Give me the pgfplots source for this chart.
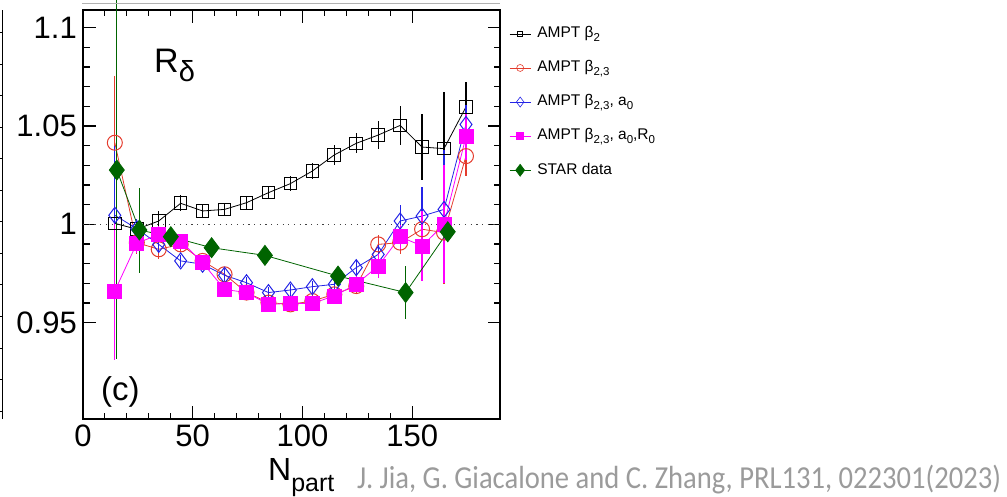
\documentclass[border=0pt]{standalone}
\usepackage{pgfplots}
\pgfplotsset{compat=1.18}
\usepackage{pgfplotstable}
\usepackage{fontspec}
\setmainfont{Liberation Sans}
\newfontfamily\carlito{Carlito}
\definecolor{rootred}{RGB}{228,60,45}
\definecolor{rootblue}{RGB}{35,35,230}
\definecolor{rootmag}{RGB}{255,0,255}
\definecolor{rootgreen}{RGB}{0,100,0}
\definecolor{citegray}{RGB}{155,155,155}
\newcommand{\lsub}[1]{\raisebox{-4pt}{\fontsize{11.5}{12}\selectfont #1}}

\pgfplotstableread{
x y ey
14.5 1.0005 0.002
24.5 0.9975 0.003
34.5 1.0017 0.005
44.5 1.0107 0.004
54.5 1.0068 0.003
64.5 1.0076 0.003
74.5 1.0110 0.003
84.5 1.0161 0.003
94.5 1.0207 0.004
104.5 1.0271 0.004
114.5 1.0353 0.005
124.5 1.0412 0.005
134.5 1.0454 0.007
144.5 1.0503 0.010
154.5 1.0393 0.017
164.5 1.0385 0.029
174.5 1.0597 0.0125
}\tabblk

\pgfplotstableread{
x y ey
14.5 1.0415 0.034
24.5 0.9907 0.006
34.5 0.9873 0.005
44.5 0.9898 0.004
54.5 0.9814 0.003
64.5 0.9746 0.003
74.5 0.9653 0.003
84.5 0.9602 0.003
94.5 0.9593 0.003
104.5 0.9610 0.003
114.5 0.9644 0.003
124.5 0.9686 0.004
134.5 0.9898 0.005
144.5 0.9907 0.006
154.5 0.9975 0.008
164.5 0.9958 0.026
174.5 1.0347 0.010
}\tabred

\pgfplotstableread{
x y ey
14.5 1.0046 0.035
24.5 0.9978 0.005
34.5 0.9898 0.004
44.5 0.9814 0.003
54.5 0.9797 0.003
64.5 0.9741 0.003
74.5 0.9703 0.003
84.5 0.9653 0.003
94.5 0.9666 0.003
104.5 0.9683 0.003
114.5 0.9695 0.003
124.5 0.9780 0.004
134.5 0.9847 0.005
144.5 1.0017 0.008
154.5 1.0042 0.015
164.5 1.0076 0.030
174.5 1.0508 0.010
}\tabblu

\pgfplotstableread{
x y ey
14.5 0.9661 0.035
24.5 0.9903 0.005
34.5 0.9949 0.004
44.5 0.9915 0.003
54.5 0.9805 0.003
64.5 0.9669 0.003
74.5 0.9653 0.003
84.5 0.9593 0.003
94.5 0.9598 0.003
104.5 0.9598 0.003
114.5 0.9636 0.003
124.5 0.9695 0.004
134.5 0.9788 0.006
144.5 0.9937 0.006
154.5 0.9890 0.018
164.5 1.0000 0.030
174.5 1.0446 0.012
}\tabmag

\pgfplotstableread{
x y ey
15.4 1.0276 0.096
25.7 0.9971 0.0216
40.0 0.9937 0.004
58.6 0.9881 0.003
82.9 0.9842 0.003
116.2 0.9737 0.003
147.0 0.9653 0.0135
166.2 0.9962 0.003
}\tabgrn

\begin{document}
\begin{tikzpicture}
\begin{axis}[
  at={(83pt,77pt)}, anchor=south west,
  scale only axis, width=417pt, height=409pt,
  xmin=0, xmax=190, ymin=0.901, ymax=1.109,
  clip=false,
  xtick={0,50,100,150}, xticklabels={0,50,100,150},
  ytick={0.95,1,1.05,1.1}, yticklabels={0.95,1,1.05,1.1},
  minor x tick num=4, minor y tick num=4,
  tick align=inside, xtick pos=both, ytick pos=both,
  xticklabel pos=bottom, yticklabel pos=left,
  major tick length=12.5pt, minor tick length=6.5pt,
  axis line style={line width=1.5pt},
  every tick/.style={black, line width=1.1pt},
  ticklabel style={font=\fontsize{31}{33}\selectfont},
  xticklabel style={inner sep=6pt},
  yticklabel style={inner sep=6pt},
  /pgf/number format/assume math mode=true,
  legend style={at={(1.022,0.966)}, anchor=north west, draw=none, fill=none,
    font=\fontsize{15.5}{17}\selectfont, row sep=14.6pt, inner sep=0pt,
    nodes={inner sep=2pt, text height=11.5pt, text depth=4pt, anchor=west}},
  legend cell align=left,
  legend image code/.code={\draw[mark repeat=2,mark phase=2,#1] plot coordinates {(0pt,0pt) (10.5pt,0pt) (21pt,0pt)};},
]
\addplot[forget plot, black!75, line width=1pt, dash pattern=on 1.2pt off 4.5pt] coordinates {(0,1) (190,1)};

\addplot[forget plot, black, line width=0.8pt, mark=square, mark size=6.3pt, mark options={solid, line width=1pt},
  error bars/.cd, y dir=both, y explicit, error mark=none, error bar style={line width=1.2pt}]
  table[x=x, y=y, y error=ey] {\tabblk};
\addplot[forget plot, rootred, line width=0.8pt, mark=o, mark size=7.5pt, mark options={solid, line width=1pt},
  error bars/.cd, y dir=both, y explicit, error mark=none, error bar style={line width=1.2pt}]
  table[x=x, y=y, y error=ey] {\tabred};
\addplot[forget plot, rootblue, line width=0.8pt, mark=diamond, mark size=8pt, mark options={solid, line width=1pt},
  error bars/.cd, y dir=both, y explicit, error mark=none, error bar style={line width=1.2pt}]
  table[x=x, y=y, y error=ey] {\tabblu};
\addplot[forget plot, rootmag, line width=0.8pt, mark=square*, mark size=7pt, mark options={solid, fill=rootmag},
  error bars/.cd, y dir=both, y explicit, error mark=none, error bar style={line width=1.2pt}]
  table[x=x, y=y, y error=ey] {\tabmag};
\addplot[forget plot, rootgreen, line width=0.8pt, mark=diamond*, mark size=10pt, mark options={solid, fill=rootgreen},
  error bars/.cd, y dir=both, y explicit, error mark=none, error bar style={line width=1.2pt}]
  table[x=x, y=y, y error=ey] {\tabgrn};

\addlegendimage{black, line width=0.6pt, mark=square, mark size=2.6pt, mark options={solid}}
\addlegendentry{~AMPT β\lsub{2}}
\addlegendimage{rootred, line width=0.6pt, mark=o, mark size=3.5pt, mark options={solid}}
\addlegendentry{~AMPT β\lsub{2,3}}
\addlegendimage{rootblue, line width=0.6pt, mark=diamond, mark size=5pt, mark options={solid}}
\addlegendentry{~AMPT β\lsub{2,3}, a\lsub{0}}
\addlegendimage{rootmag, line width=0.6pt, mark=square*, mark size=3.4pt, mark options={solid, fill=rootmag}}
\addlegendentry{~AMPT β\lsub{2,3}, a\lsub{0},R\lsub{0}}
\addlegendimage{rootgreen, line width=0.6pt, mark=diamond*, mark size=6pt, mark options={solid, fill=rootgreen}}
\addlegendentry{~STAR data}
\end{axis}

% text annotations
\node[anchor=base west, inner sep=0pt] at (154pt,423pt) {\fontsize{34}{36}\selectfont R\raisebox{-9pt}{\fontsize{29}{30}\selectfont δ}};
\node[anchor=base west, inner sep=0pt] at (101pt,96pt) {\fontsize{33}{35}\selectfont (c)};
\node[anchor=base west, inner sep=0pt] at (268pt,16pt) {\fontsize{32}{34}\selectfont N\raisebox{-11pt}{\fontsize{25}{27}\selectfont part}};
\node[anchor=base west, inner sep=0pt] at (357pt,8pt) {\scalebox{1}[1.12]{\carlito\fontsize{28.6}{30}\selectfont\color{citegray}J. Jia, G. Giacalone and C. Zhang, PRL131, 022301(2023)}};

% slide decorations
\draw[gray!60, line width=0.8pt] (82pt,493pt) -- (500pt,493pt);
\draw[black, line width=1pt] (2.7pt,77pt) -- (2.7pt,486pt);
\foreach \yy in {463,431.5,400,368.5,337,305.5,274,242.5,211,179.5,148,116.5,85} {
  \draw[black, line width=1pt] (0pt,\yy pt) -- (2.7pt,\yy pt);
}

\pgfresetboundingbox
\path[use as bounding box] (0pt,0pt) rectangle (1007pt,496pt);
\end{tikzpicture}
\end{document}
